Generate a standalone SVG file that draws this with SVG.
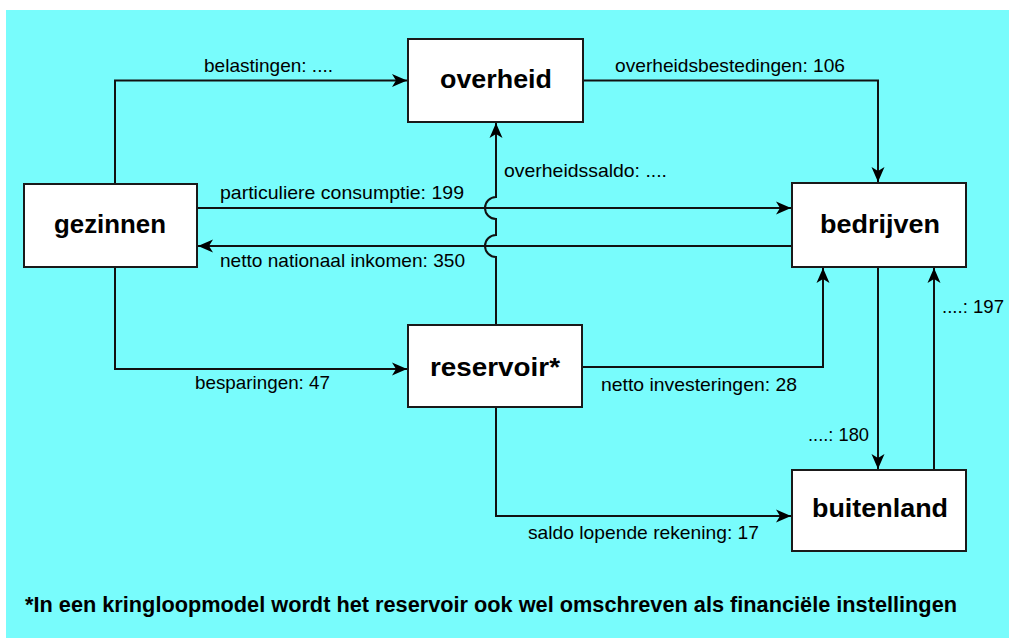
<svg xmlns="http://www.w3.org/2000/svg" width="1009" height="638" viewBox="0 0 1009 638">
<style>
.node rect{fill:#fff;stroke:#1a1a1a;stroke-width:2}
.node text{font-family:"Liberation Sans",Arial,sans-serif;font-weight:bold;font-size:26px;fill:#000;text-anchor:middle}
.conn path{fill:none;stroke:#111;stroke-width:2;marker-end:url(#ah)}
.lbl{font-family:"Liberation Sans",Arial,sans-serif;font-size:19px;fill:#000}
.foot{font-family:"Liberation Sans",Arial,sans-serif;font-size:22px;font-weight:bold;fill:#000}
</style>
<defs>
<marker id="ah" markerUnits="userSpaceOnUse" viewBox="-15 -7 15 14" refX="0" refY="0" markerWidth="15" markerHeight="14" orient="auto">
<path d="M0,0 L-15,-6.5 L-11,0 L-15,6.5 Z" fill="#000"/>
</marker>
</defs>
<rect x="6" y="10" width="1003" height="628" fill="#78fcfc"/>
<g class="conn">
<path d="M115,184 V80.5 H407"/>
<path d="M583,80.5 H878 V182"/>
<path d="M197,208 H791"/>
<path d="M792,246 H198"/>
<path d="M115,267 V369 H407"/>
<path d="M582,367 H823 V268"/>
<path d="M496,325 V257 A11,11 0 0 1 496,235 V219 A11,11 0 0 1 496,197 V123"/>
<path d="M496,407 V516 H791"/>
<path d="M878,267 V469"/>
<path d="M934,470 V268"/>
</g>
<g id="overheid" class="node"><rect x="408" y="39" width="175" height="83"/><text x="496" y="88" textLength="112" lengthAdjust="spacingAndGlyphs">overheid</text></g>
<g id="gezinnen" class="node"><rect x="24" y="184" width="173" height="83"/><text x="110" y="233" textLength="112" lengthAdjust="spacingAndGlyphs">gezinnen</text></g>
<g id="bedrijven" class="node"><rect x="792" y="183" width="174" height="84"/><text x="880" y="233" textLength="120" lengthAdjust="spacingAndGlyphs">bedrijven</text></g>
<g id="reservoir" class="node"><rect x="408" y="325" width="174" height="82"/><text x="495" y="376" textLength="130" lengthAdjust="spacingAndGlyphs">reservoir*</text></g>
<g id="buitenland" class="node"><rect x="792" y="470" width="174" height="81"/><text x="880" y="517" textLength="136" lengthAdjust="spacingAndGlyphs">buitenland</text></g>
<g id="labels">
<text class="lbl" x="204" y="72" textLength="129" lengthAdjust="spacingAndGlyphs">belastingen: ....</text>
<text class="lbl" x="615" y="72" textLength="230" lengthAdjust="spacingAndGlyphs">overheidsbestedingen: 106</text>
<text class="lbl" x="504" y="177" textLength="163" lengthAdjust="spacingAndGlyphs">overheidssaldo: ....</text>
<text class="lbl" x="220" y="199" textLength="244" lengthAdjust="spacingAndGlyphs">particuliere consumptie: 199</text>
<text class="lbl" x="220" y="267" textLength="245" lengthAdjust="spacingAndGlyphs">netto nationaal inkomen: 350</text>
<text class="lbl" x="195" y="389" textLength="135" lengthAdjust="spacingAndGlyphs">besparingen: 47</text>
<text class="lbl" x="601" y="391" textLength="196" lengthAdjust="spacingAndGlyphs">netto investeringen: 28</text>
<text class="lbl" x="808" y="441" textLength="61" lengthAdjust="spacingAndGlyphs">....: 180</text>
<text class="lbl" x="942" y="313" textLength="62" lengthAdjust="spacingAndGlyphs">....: 197</text>
<text class="lbl" x="528" y="539" textLength="231" lengthAdjust="spacingAndGlyphs">saldo lopende rekening: 17</text>
<text class="foot" x="25" y="612" textLength="932" lengthAdjust="spacingAndGlyphs">*In een kringloopmodel wordt het reservoir ook wel omschreven als financiële instellingen</text>
</g>
</svg>
